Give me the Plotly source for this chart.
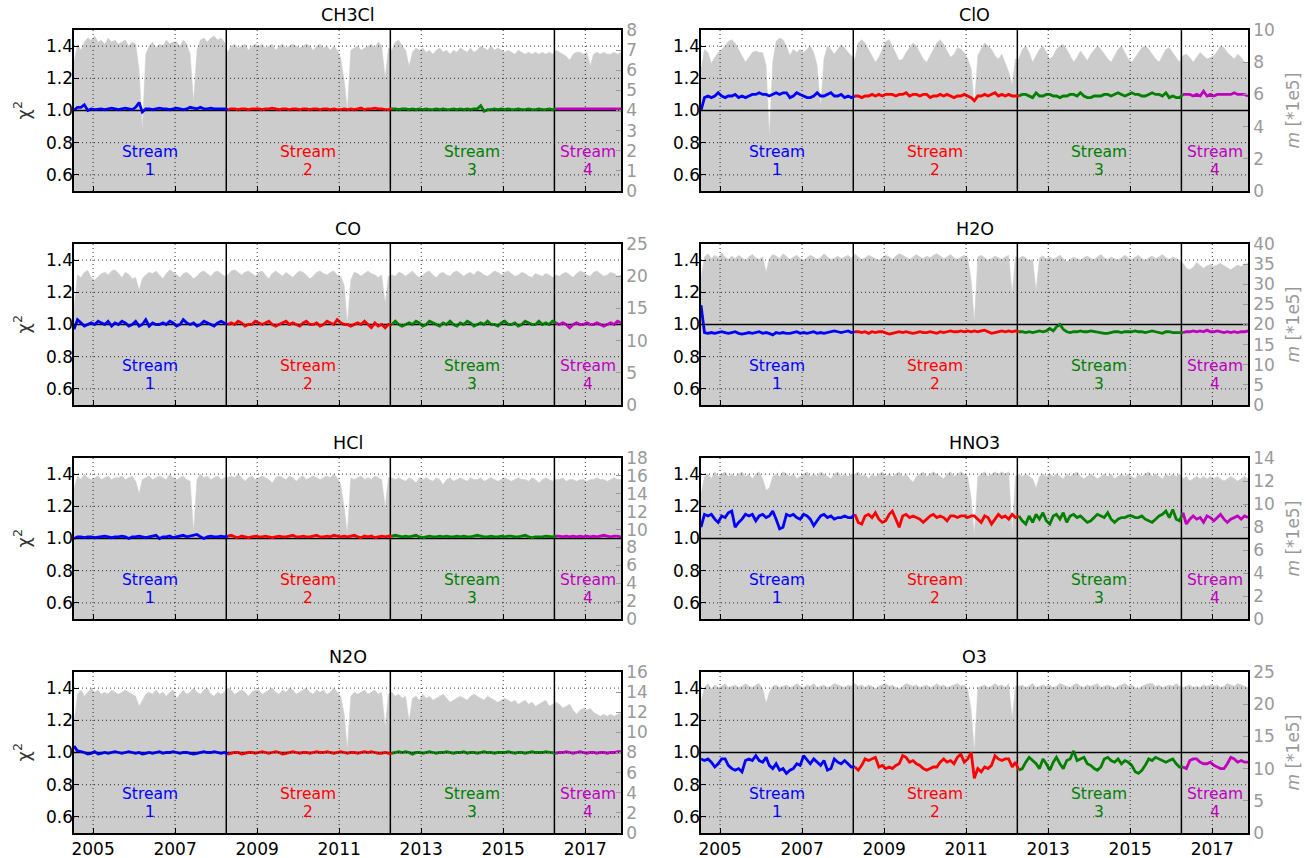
import plotly.graph_objects as go
import pandas as pd

# ---------------- data ----------------
SPECIES = ["CH3Cl", "ClO", "CO", "H2O", "HCl", "HNO3", "N2O", "O3"]
M_MAX = [8, 10, 25, 40, 18, 14, 16, 25]
M_DTICK = [1, 2, 5, 5, 2, 2, 2, 5]

STREAM_LABELS = ["1", "2", "3", "4"]
STREAM_COLORS = ["#0000ff", "#ff0000", "#008000", "#bf00bf"]
STREAM_STARTS = ["2004-07-15", "2008-04-01", "2012-04-01", "2016-04-01"]
DATA_END = "2017-11-15"
X_TICK_YEARS = ["2005", "2007", "2009", "2011", "2013", "2015", "2017"]
CHI_TICKS = [0.6, 0.8, 1.0, 1.2, 1.4]
N_MONTHS = 161  # monthly means, Jul 2004 .. Nov 2017

M_CH3CL = [
    6.4, 7.3, 7.0, 7.4, 7.6, 7.5,
    7.7, 7.4, 7.5, 7.3, 7.6, 7.4, 7.5, 7.3, 7.4, 7.5, 7.2, 7.4,
    7.3, 6.0, 3.0, 6.8, 7.2, 7.4, 7.1, 7.3, 7.2, 7.5, 7.3, 7.4,
    7.4, 7.2, 7.5, 7.3, 6.8, 4.4, 7.0, 7.5, 7.6, 7.4, 7.6, 7.7,
    7.5, 7.6, 7.4, 6.9, 7.2, 7.3, 7.1, 7.2, 7.3, 7.0, 7.2, 7.3,
    7.2, 7.3, 7.1, 7.2, 7.3, 7.0, 7.2, 7.3, 7.1, 7.2, 7.3, 7.2,
    7.1, 7.2, 7.3, 7.2, 7.0, 7.2, 7.3, 7.1, 7.2, 7.0, 7.2, 7.0,
    6.6, 5.5, 4.0, 7.0, 7.1, 7.2, 7.0, 7.1, 7.2, 7.3, 7.1, 7.4,
    7.2, 5.6, 7.1, 7.0, 7.4, 7.5, 7.2, 7.0, 6.2, 6.9, 7.1, 7.0,
    7.1, 6.9, 7.0, 6.8, 7.0, 7.1, 6.9, 7.0, 6.8, 7.0, 6.9, 7.1,
    7.0, 6.9, 7.1, 6.9, 7.0, 7.2, 7.1, 7.0, 7.2, 7.0, 7.1, 7.0,
    6.9, 7.0, 6.9, 6.8, 7.0, 6.9, 6.8, 6.9, 6.8, 6.9, 6.8, 6.9,
    6.8, 6.9, 6.8, 7.0, 6.9, 6.8, 6.7, 6.5, 6.8, 6.9, 6.9, 6.8,
    6.9, 6.2, 6.8, 6.9, 6.8, 6.9, 6.8, 6.8, 6.9, 6.8, 6.9,
]
CHI_CH3CL = [
    1.00, 1.02, 1.02, 1.035, 1.00, 1.01,
    1.005, 1.01, 1.01, 1.005, 1.01, 1.015, 1.01, 1.005, 1.01, 1.015, 1.01, 1.005,
    1.02, 1.05, 0.99, 1.01, 1.01, 1.005, 1.01, 1.015, 1.01, 1.01, 1.005, 1.01,
    1.015, 1.01, 1.005, 1.01, 1.02, 1.015, 1.01, 1.02, 1.01, 1.01, 1.015, 1.01,
    1.01, 1.01, 1.01, 1.005, 1.01, 1.01, 1.005, 1.01, 1.01, 1.005, 1.01, 1.01,
    1.01, 1.005, 1.01, 1.01, 1.015, 1.01, 1.005, 1.01, 1.01, 1.005, 1.01, 1.01,
    1.005, 1.01, 1.01, 1.005, 1.01, 1.01, 1.005, 1.01, 1.01, 1.005, 1.01, 1.005,
    1.005, 1.01, 1.005, 1.01, 1.005, 1.01, 1.015, 1.005, 1.01, 1.01, 1.015, 1.01,
    1.01, 1.005, 1.005, 1.01, 1.01, 1.005, 1.01, 1.01, 1.005, 1.01, 1.005, 1.01,
    1.005, 1.01, 1.005, 1.005, 1.01, 1.005, 1.01, 1.005, 1.005, 1.01, 1.005, 1.01,
    1.005, 1.01, 1.005, 1.01, 1.01, 1.03, 0.995, 1.005, 1.005, 1.01, 1.005, 1.01,
    1.005, 1.01, 1.005, 1.005, 1.01, 1.005, 1.005, 1.01, 1.005, 1.005, 1.01, 1.005,
    1.005, 1.01, 1.005, 1.01, 1.01, 1.01, 1.01, 1.01, 1.01, 1.01, 1.01, 1.01,
    1.01, 1.01, 1.01, 1.01, 1.01, 1.01, 1.01, 1.01, 1.01, 1.01, 1.01,
]

M_CLO = [
    7.5, 8.8, 8.6, 7.9, 8.3, 8.6,
    8.8, 9.0, 9.3, 9.4, 9.2, 8.8, 8.4, 8.0, 8.3, 8.6, 8.7, 8.6,
    8.6, 7.8, 3.4, 8.0, 9.3, 9.5, 9.4, 9.0, 8.4, 8.8, 8.6, 8.8,
    8.6, 8.8, 9.0, 8.6, 7.8, 5.2, 8.2, 9.0, 8.8, 8.5, 8.8, 9.1,
    8.9, 8.6, 8.4, 8.2, 9.2, 9.4, 9.2, 8.8, 8.4, 8.0, 8.3, 8.8,
    9.3, 9.4, 9.0, 8.5, 8.1, 8.2, 8.6, 8.9, 9.2, 9.0, 8.6, 8.2,
    8.0, 8.4, 8.8, 9.2, 9.4, 9.1, 8.7, 8.3, 8.5, 8.9, 8.8, 8.6,
    8.2, 7.6, 5.2, 8.4, 8.8, 9.2, 9.0, 8.8, 8.4, 8.2, 8.5, 8.0,
    7.4, 6.6, 8.2, 8.2, 8.8, 9.0, 8.6, 8.0, 8.4, 8.8, 9.0, 8.6,
    8.2, 8.4, 8.8, 9.0, 9.1, 8.8, 8.4, 8.0, 8.3, 8.7, 8.4, 8.1,
    8.5, 8.8, 9.0, 8.8, 8.5, 8.2, 8.0, 8.4, 8.8, 9.0, 8.6, 8.2,
    8.0, 8.3, 8.6, 8.9, 9.0, 8.8, 8.5, 8.2, 8.0, 8.4, 8.8, 8.9,
    8.6, 8.3, 8.0, 8.4, 8.5, 8.3, 8.0, 8.3, 8.6, 8.4, 8.2, 8.3,
    8.4, 8.7, 9.0, 8.9, 8.6, 8.4, 8.2, 8.5, 8.3, 8.0, 7.9,
]
CHI_CLO = [
    1.00, 1.08, 1.09, 1.08, 1.09, 1.11,
    1.09, 1.08, 1.09, 1.09, 1.10, 1.08, 1.09, 1.08, 1.09, 1.10, 1.10, 1.11,
    1.10, 1.10, 1.09, 1.10, 1.11, 1.10, 1.11, 1.11, 1.08, 1.09, 1.11, 1.10,
    1.09, 1.08, 1.08, 1.09, 1.11, 1.09, 1.09, 1.10, 1.11, 1.09, 1.09, 1.10,
    1.08, 1.09, 1.08, 1.09, 1.09, 1.08, 1.09, 1.09, 1.10, 1.09, 1.10, 1.09,
    1.10, 1.10, 1.10, 1.09, 1.10, 1.10, 1.11, 1.09, 1.10, 1.10, 1.09, 1.10,
    1.10, 1.08, 1.09, 1.09, 1.10, 1.09, 1.10, 1.09, 1.08, 1.09, 1.09, 1.10,
    1.09, 1.08, 1.06, 1.09, 1.09, 1.10, 1.09, 1.10, 1.11, 1.09, 1.10, 1.09,
    1.10, 1.09, 1.09, 1.09, 1.10, 1.10, 1.09, 1.08, 1.11, 1.09, 1.09, 1.10,
    1.10, 1.09, 1.09, 1.08, 1.09, 1.09, 1.10, 1.10, 1.09, 1.11, 1.09, 1.08,
    1.08, 1.09, 1.09, 1.09, 1.10, 1.10, 1.09, 1.10, 1.11, 1.10, 1.09, 1.10,
    1.11, 1.10, 1.10, 1.09, 1.09, 1.10, 1.11, 1.10, 1.10, 1.09, 1.11, 1.08,
    1.09, 1.08, 1.08, 1.10, 1.10, 1.10, 1.09, 1.10, 1.09, 1.12, 1.09, 1.10,
    1.09, 1.10, 1.10, 1.10, 1.10, 1.10, 1.11, 1.10, 1.10, 1.10, 1.09,
]

M_CO = [
    15.0, 20.2, 19.8, 20.6, 20.9, 19.8,
    19.4, 20.0, 20.4, 20.6, 20.2, 20.8, 21.0, 20.4, 19.8, 20.6, 20.3, 19.6,
    19.8, 17.8, 19.6, 20.2, 20.6, 20.4, 20.8, 20.2, 19.6, 20.4, 21.0, 20.6,
    20.2, 19.8, 20.4, 20.6, 20.2, 19.6, 20.0, 20.6, 20.8, 20.4, 20.0, 20.6,
    20.8, 20.4, 20.0, 20.2, 20.8, 21.0, 20.6, 20.2, 20.6, 20.8, 20.4, 20.0,
    20.6, 20.8, 20.2, 19.6, 20.4, 20.8, 20.4, 20.0, 20.6, 20.2, 19.8, 20.4,
    20.8, 20.6, 20.2, 19.6, 20.0, 20.6, 20.8, 20.4, 20.2, 20.6, 20.8, 20.2,
    20.0, 18.6, 12.6, 19.4, 20.6, 20.4, 20.0, 20.4, 20.8, 20.4, 20.2, 19.8,
    20.2, 15.7, 20.0, 20.2, 20.0, 20.6, 20.4, 20.0, 20.4, 20.8, 20.2, 19.8,
    20.2, 20.6, 20.8, 20.2, 19.8, 20.4, 20.6, 20.2, 20.0, 20.6, 20.8, 20.4,
    20.0, 20.4, 20.6, 20.2, 20.8, 20.6, 20.2, 20.0, 20.4, 20.8, 20.6, 20.2,
    20.6, 20.8, 20.4, 20.0, 20.2, 20.6, 20.4, 20.0, 19.8, 20.4, 20.2, 20.0,
    20.4, 20.2, 19.8, 20.2, 20.0, 20.4, 20.6, 20.2, 19.8, 20.4, 20.8, 20.6,
    20.2, 20.0, 20.6, 20.8, 20.4, 20.0, 20.2, 20.6, 20.4, 20.0, 20.2,
]
CHI_CO = [
    0.97, 1.03, 1.01, 0.99, 1.00, 1.01,
    1.00, 1.02, 1.01, 1.00, 1.02, 0.99, 1.01, 1.00, 1.02, 1.01, 0.99, 1.00,
    1.02, 0.99, 1.00, 1.03, 0.99, 1.01, 1.00, 1.00, 1.01, 1.00, 1.02, 1.01,
    0.99, 1.00, 1.03, 1.01, 1.00, 1.01, 0.99, 1.00, 1.02, 1.01, 1.00, 0.99,
    1.01, 1.02, 1.01, 1.00, 1.01, 1.00, 1.02, 1.01, 0.99, 1.00, 1.00, 1.02,
    1.01, 1.00, 1.01, 1.02, 1.00, 0.99, 1.00, 1.01, 1.02, 1.00, 1.01, 1.00,
    0.99, 1.01, 1.02, 1.00, 1.00, 1.01, 0.99, 1.00, 1.02, 1.01, 1.00, 1.03,
    1.01, 1.00, 1.00, 0.99, 1.00, 1.01, 1.00, 1.02, 1.00, 0.98, 1.01, 0.99,
    1.00, 0.98, 1.00, 1.00, 1.02, 1.00, 0.99, 1.00, 1.01, 1.00, 1.02, 1.01,
    0.99, 1.00, 1.02, 1.01, 1.00, 0.99, 1.01, 1.00, 1.02, 1.00, 0.99, 1.01,
    1.00, 1.02, 1.01, 0.99, 1.00, 1.01, 1.00, 1.02, 1.00, 1.00, 0.99, 1.01,
    1.02, 1.00, 1.00, 1.01, 0.99, 1.00, 1.02, 1.01, 1.00, 1.00, 1.02, 1.00,
    1.01, 1.00, 1.02, 1.01, 1.00, 1.01, 1.00, 0.98, 1.00, 1.01, 1.00, 1.00,
    1.01, 1.00, 1.00, 1.01, 1.00, 0.99, 1.00, 1.01, 1.00, 1.02, 1.01,
]

M_H2O = [
    31.6, 36.8, 37.6, 36.4, 37.2, 36.6,
    37.8, 36.8, 36.2, 37.0, 36.4, 37.2, 36.6, 36.0, 36.8, 37.4, 36.6, 36.2,
    36.8, 33.0, 36.4, 37.4, 37.0, 36.4, 37.6, 37.0, 36.2, 36.8, 37.2, 36.4,
    36.0, 36.6, 37.2, 36.8, 36.2, 36.6, 37.6, 36.8, 36.2, 36.4, 37.0, 36.4,
    36.8, 37.2, 36.4, 37.6, 36.8, 36.2, 36.6, 37.2, 36.8, 36.4, 36.0, 36.6,
    37.2, 36.8, 36.2, 37.0, 37.6, 37.2, 36.6, 36.2, 36.8, 37.4, 36.8, 36.4,
    37.0, 36.6, 37.2, 37.6, 37.0, 36.4, 36.8, 37.4, 36.6, 36.2, 36.8, 37.2,
    36.6, 31.0, 20.5, 36.8, 37.2, 36.6, 36.0, 36.4, 37.0, 36.6, 36.2, 36.8,
    37.2, 27.6, 36.8, 36.4, 37.0, 36.6, 35.8, 36.2, 28.4, 36.6, 37.0, 36.4,
    36.8, 36.2, 36.6, 37.2, 36.4, 35.6, 36.2, 36.8, 36.4, 36.0, 36.6, 37.0,
    36.4, 36.2, 36.8, 37.4, 36.6, 36.2, 36.8, 36.4, 36.0, 36.6, 37.2, 36.6,
    36.2, 36.8, 37.2, 36.4, 36.0, 36.6, 37.0, 36.4, 36.8, 37.4, 36.6, 36.2,
    36.8, 36.4, 36.0, 35.2, 34.0, 33.6, 34.2, 35.4, 34.8, 34.0, 34.6, 35.0,
    34.4, 34.8, 35.2, 34.6, 34.0, 33.6, 34.2, 34.8, 34.4, 35.0, 35.2,
]
CHI_H2O = [
    1.12, 0.95, 0.945, 0.95, 0.945, 0.95,
    0.955, 0.95, 0.945, 0.95, 0.955, 0.945, 0.94, 0.945, 0.95, 0.945, 0.95, 0.955,
    0.945, 0.95, 0.945, 0.935, 0.95, 0.945, 0.95, 0.945, 0.945, 0.95, 0.955, 0.945,
    0.95, 0.945, 0.95, 0.955, 0.945, 0.95, 0.945, 0.95, 0.955, 0.96, 0.955, 0.95,
    0.955, 0.96, 0.95, 0.955, 0.955, 0.95, 0.955, 0.945, 0.955, 0.95, 0.955, 0.955,
    0.945, 0.94, 0.945, 0.95, 0.955, 0.95, 0.955, 0.95, 0.945, 0.95, 0.955, 0.95,
    0.95, 0.955, 0.95, 0.945, 0.955, 0.95, 0.955, 0.96, 0.955, 0.955, 0.96, 0.955,
    0.96, 0.955, 0.96, 0.955, 0.96, 0.965, 0.955, 0.945, 0.95, 0.955, 0.96, 0.955,
    0.96, 0.955, 0.96, 0.955, 0.955, 0.95, 0.955, 0.95, 0.955, 0.96, 0.955, 0.96,
    0.975, 0.96, 0.985, 1.00, 0.97, 0.955, 0.95, 0.955, 0.955, 0.96, 0.955, 0.955,
    0.96, 0.955, 0.955, 0.95, 0.945, 0.945, 0.95, 0.955, 0.955, 0.95, 0.955, 0.955,
    0.955, 0.96, 0.955, 0.955, 0.95, 0.955, 0.96, 0.955, 0.95, 0.945, 0.955, 0.955,
    0.95, 0.95, 0.95, 0.95, 0.955, 0.955, 0.96, 0.955, 0.96, 0.955, 0.965, 0.955,
    0.955, 0.96, 0.955, 0.95, 0.955, 0.95, 0.955, 0.95, 0.955, 0.955, 0.96,
]

M_HCL = [
    14.6, 16.0, 15.6, 16.2, 15.8, 15.6,
    15.8, 16.0, 15.6, 15.8, 16.0, 15.6, 15.8, 15.8, 16.0, 15.6, 15.8, 16.0,
    15.4, 14.0, 15.6, 15.8, 16.0, 15.6, 15.8, 16.0, 15.8, 15.6, 16.2, 15.8,
    15.6, 15.8, 16.0, 15.6, 15.4, 9.7, 15.6, 16.2, 15.8, 16.0, 15.6, 15.8,
    16.0, 15.6, 15.8, 15.8, 16.0, 15.8, 16.2, 15.8, 15.4, 15.8, 16.0, 15.6,
    15.8, 16.0, 15.8, 15.6, 15.2, 15.8, 16.0, 15.8, 15.6, 16.0, 15.8, 15.4,
    15.8, 16.0, 15.6, 15.8, 16.0, 15.8, 15.6, 15.8, 16.0, 15.8, 16.2, 15.8,
    15.0, 12.5, 9.5, 15.8, 15.6, 15.8, 16.0, 15.6, 15.8, 15.6, 16.0, 15.8,
    15.6, 12.5, 15.8, 15.8, 15.6, 15.8, 15.6, 15.4, 15.8, 15.6, 15.2, 15.8,
    15.6, 15.8, 15.6, 15.4, 15.8, 15.6, 15.0, 15.6, 15.8, 15.4, 15.6, 15.8,
    15.6, 15.4, 15.8, 15.6, 15.6, 15.8, 15.4, 15.6, 15.8, 15.6, 15.4, 15.6,
    15.8, 15.6, 15.4, 15.6, 15.8, 15.6, 15.6, 15.4, 15.8, 15.6, 15.2, 15.6,
    15.8, 15.6, 15.4, 15.6, 15.6, 15.8, 15.4, 15.6, 15.6, 15.4, 15.6, 15.6,
    15.4, 15.6, 15.6, 15.8, 15.6, 15.6, 15.4, 15.6, 15.8, 15.6, 15.6,
]
CHI_HCL = [
    1.00, 1.01, 1.01, 1.005, 1.01, 1.01,
    1.005, 1.01, 1.01, 1.015, 1.01, 1.005, 1.01, 1.01, 1.015, 1.01, 1.00, 1.01,
    1.01, 1.015, 1.01, 1.005, 1.01, 1.015, 1.02, 1.00, 1.01, 1.01, 1.015, 1.005,
    1.01, 1.015, 1.02, 1.01, 1.015, 1.02, 1.025, 1.01, 1.00, 1.01, 1.015, 1.01,
    1.01, 1.015, 1.01, 1.015, 1.02, 1.01, 1.005, 1.015, 1.01, 1.005, 1.01, 1.015,
    1.01, 1.01, 1.015, 1.01, 1.005, 1.01, 1.015, 1.01, 1.01, 1.015, 1.02, 1.01,
    1.01, 1.015, 1.01, 1.01, 1.015, 1.02, 1.01, 1.01, 1.015, 1.01, 1.02, 1.015,
    1.01, 1.015, 1.01, 1.015, 1.02, 1.01, 1.005, 1.015, 1.01, 1.015, 1.005, 1.01,
    1.015, 1.01, 1.015, 1.015, 1.02, 1.015, 1.01, 1.015, 1.01, 1.015, 1.02, 1.01,
    1.005, 1.01, 1.015, 1.01, 1.01, 1.015, 1.01, 1.015, 1.01, 1.01, 1.015, 1.01,
    1.015, 1.01, 1.01, 1.015, 1.02, 1.015, 1.01, 1.01, 1.015, 1.01, 1.01, 1.015,
    1.01, 1.015, 1.015, 1.01, 1.01, 1.015, 1.02, 1.01, 1.005, 1.01, 1.01, 1.01,
    1.015, 1.01, 1.01, 1.015, 1.015, 1.01, 1.015, 1.01, 1.015, 1.01, 1.015, 1.01,
    1.015, 1.01, 1.015, 1.01, 1.015, 1.02, 1.015, 1.01, 1.015, 1.015, 1.01,
]

M_HNO3 = [
    10.8, 12.4, 12.6, 12.2, 12.8, 12.4,
    12.6, 12.8, 12.4, 12.6, 12.4, 12.6, 12.8, 12.4, 12.6, 12.2, 12.6, 12.8,
    12.2, 11.2, 11.4, 12.4, 12.6, 12.4, 12.8, 12.6, 12.4, 12.6, 12.2, 12.4,
    12.6, 12.8, 12.4, 12.6, 12.4, 12.8, 12.6, 12.4, 12.2, 12.6, 12.8, 12.4,
    12.6, 12.4, 12.6, 12.6, 12.8, 12.4, 12.6, 12.2, 12.6, 12.4, 12.6, 12.8,
    12.4, 12.6, 12.4, 12.6, 12.8, 12.4, 12.6, 12.2, 11.9, 12.4, 12.6, 12.8,
    12.4, 12.6, 12.8, 12.6, 12.4, 12.2, 12.6, 12.8, 12.4, 12.6, 12.8, 12.6,
    12.4, 10.5, 7.3, 12.4, 12.6, 12.8, 12.4, 12.6, 12.8, 12.6, 12.8, 12.6,
    12.8, 7.4, 12.4, 12.6, 12.4, 12.6, 12.4, 12.2, 11.4, 12.4, 12.6, 12.4,
    12.6, 12.4, 12.6, 12.4, 12.2, 12.6, 12.4, 12.6, 12.8, 12.4, 12.2, 12.4,
    12.6, 12.4, 12.2, 12.4, 12.6, 12.4, 12.6, 12.2, 12.4, 12.6, 12.4, 12.6,
    12.4, 12.2, 12.6, 12.4, 12.6, 12.8, 12.4, 12.6, 12.4, 12.2, 12.6, 12.4,
    12.6, 12.4, 12.6, 12.2, 12.4, 12.0, 12.2, 12.4, 12.2, 12.4, 12.2, 12.4,
    12.2, 12.4, 12.2, 12.0, 12.2, 12.4, 12.2, 12.0, 12.2, 12.4, 12.2,
]
CHI_HNO3 = [
    1.07, 1.15, 1.14, 1.15, 1.12, 1.10,
    1.14, 1.13, 1.16, 1.17, 1.07, 1.10, 1.12, 1.15, 1.14, 1.15, 1.11, 1.14,
    1.15, 1.13, 1.14, 1.17, 1.12, 1.06, 1.07, 1.15, 1.14, 1.15, 1.13, 1.12,
    1.15, 1.14, 1.12, 1.08, 1.11, 1.14, 1.15, 1.13, 1.14, 1.12, 1.13, 1.13,
    1.14, 1.13, 1.13, 1.15, 1.10, 1.09, 1.14, 1.15, 1.13, 1.16, 1.12, 1.10,
    1.11, 1.15, 1.17, 1.12, 1.07, 1.14, 1.15, 1.13, 1.14, 1.13, 1.12, 1.10,
    1.12, 1.14, 1.15, 1.13, 1.14, 1.13, 1.11, 1.14, 1.14, 1.13, 1.14, 1.14,
    1.13, 1.14, 1.14, 1.12, 1.10, 1.14, 1.13, 1.09, 1.12, 1.15, 1.13, 1.14,
    1.12, 1.15, 1.13, 1.14, 1.11, 1.09, 1.14, 1.10, 1.15, 1.12, 1.16, 1.11,
    1.09, 1.14, 1.15, 1.12, 1.16, 1.10, 1.14, 1.15, 1.13, 1.14, 1.12, 1.10,
    1.11, 1.13, 1.15, 1.14, 1.13, 1.16, 1.12, 1.10, 1.12, 1.13, 1.13, 1.14,
    1.14, 1.13, 1.13, 1.14, 1.12, 1.11, 1.10, 1.12, 1.14, 1.15, 1.17, 1.13,
    1.18, 1.12, 1.11, 1.16, 1.09, 1.12, 1.14, 1.12, 1.13, 1.10, 1.14, 1.13,
    1.11, 1.13, 1.15, 1.12, 1.10, 1.12, 1.13, 1.14, 1.12, 1.14, 1.13,
]

M_N2O = [
    11.0, 13.8, 14.2, 13.6, 14.0, 14.4,
    14.0, 14.2, 13.8, 14.0, 13.8, 14.2, 14.0, 13.8, 14.0, 14.2, 14.0, 13.8,
    13.6, 12.6, 13.2, 13.8, 14.0, 13.8, 14.2, 13.8, 14.0, 13.6, 14.0, 14.2,
    13.4, 13.8, 14.2, 13.8, 14.0, 14.4, 14.0, 13.8, 14.2, 14.4, 13.8, 13.6,
    14.0, 13.8, 14.0, 14.4, 14.2, 13.8, 14.0, 14.2, 14.0, 13.6, 14.0, 14.2,
    14.2, 13.8, 14.0, 14.2, 14.4, 14.0, 13.8, 14.2, 14.0, 14.4, 14.2, 13.8,
    14.0, 14.2, 14.4, 14.0, 13.8, 14.2, 14.0, 14.2, 13.8, 14.0, 14.4, 14.0,
    13.6, 11.8, 8.3, 13.6, 14.0, 13.8, 14.0, 14.2, 13.8, 14.0, 14.2, 13.8,
    14.0, 10.5, 13.8, 14.0, 13.6, 13.8, 13.4, 13.6, 11.1, 13.4, 13.6, 13.2,
    13.8, 13.4, 13.6, 13.2, 13.4, 13.6, 13.8, 13.4, 13.0, 13.2, 13.4, 13.6,
    13.4, 13.2, 13.6, 13.8, 13.6, 13.4, 13.2, 13.6, 13.4, 13.2, 13.0, 13.2,
    13.4, 13.2, 13.0, 13.2, 12.8, 13.0, 13.2, 12.8, 13.0, 12.6, 12.8, 13.0,
    13.2, 12.6, 12.8, 13.0, 12.8, 12.4, 12.6, 12.8, 12.2, 11.8, 12.2, 12.4,
    12.2, 12.4, 12.0, 11.8, 11.6, 11.8, 11.6, 11.8, 11.6, 11.8, 11.9,
]
CHI_N2O = [
    1.04, 1.01, 1.005, 1.0, 0.99, 0.995,
    1.005, 0.99, 0.995, 1.0, 0.995, 1.0, 1.005, 1.0, 0.995, 1.0, 1.005, 1.0,
    0.995, 1.0, 0.99, 0.995, 1.0, 0.995, 1.0, 1.005, 0.995, 1.0, 1.0, 1.005,
    1.0, 0.995, 1.0, 1.0, 0.995, 0.99, 0.995, 1.0, 1.005, 1.0, 1.0, 1.005,
    1.0, 0.995, 1.0, 0.99, 0.995, 1.0, 1.0, 0.99, 0.995, 1.0, 1.0, 0.995,
    1.0, 1.005, 1.0, 0.995, 1.0, 1.005, 1.0, 0.99, 0.995, 1.0, 1.005, 1.0,
    0.995, 1.0, 1.0, 0.995, 1.0, 1.005, 1.0, 1.0, 1.005, 1.0, 0.995, 1.0,
    1.005, 1.0, 0.995, 1.0, 1.0, 0.995, 1.0, 1.005, 1.0, 1.005, 1.0, 0.995,
    0.995, 1.0, 0.995, 0.995, 1.0, 1.005, 1.0, 1.005, 1.0, 0.99, 1.0, 1.0,
    0.995, 1.0, 1.005, 1.0, 0.995, 1.0, 1.0, 1.005, 1.0, 0.995, 1.0, 1.0,
    1.005, 0.995, 1.0, 1.0, 0.995, 1.0, 1.005, 1.0, 1.0, 0.995, 1.0, 1.0,
    1.0, 1.005, 1.0, 0.995, 1.0, 1.0, 0.995, 1.0, 1.005, 1.0, 1.0, 1.0,
    1.005, 1.0, 1.0, 0.995, 1.0, 1.0, 1.005, 1.0, 0.995, 1.0, 1.005, 1.0,
    0.995, 1.0, 1.0, 0.995, 1.0, 1.0, 0.995, 1.0, 1.0, 1.005, 1.005,
]

M_O3 = [
    20.4, 22.6, 23.2, 22.4, 23.0, 22.6,
    22.8, 23.2, 22.6, 22.8, 23.0, 22.6, 22.8, 23.2, 22.8, 22.6, 23.0, 23.2,
    22.4, 20.2, 21.8, 22.8, 23.0, 22.6, 22.8, 23.0, 22.6, 22.8, 23.2, 22.8,
    22.6, 23.0, 22.8, 23.2, 22.6, 22.8, 23.0, 22.6, 22.8, 23.2, 23.0, 22.8,
    22.6, 23.0, 22.8, 23.2, 22.8, 23.0, 22.6, 23.0, 22.8, 22.4, 22.8, 23.0,
    23.2, 22.8, 23.0, 22.6, 22.4, 22.8, 23.2, 23.0, 22.8, 23.0, 22.6, 22.8,
    23.0, 22.6, 22.8, 23.2, 22.8, 23.0, 22.6, 22.8, 23.0, 23.2, 22.8, 23.0,
    22.4, 19.0, 12.7, 22.6, 22.8, 23.0, 22.6, 22.8, 23.2, 22.8, 23.0, 22.6,
    23.2, 17.7, 22.8, 22.8, 23.0, 22.6, 22.8, 23.2, 22.6, 22.8, 23.0, 22.8,
    23.0, 22.6, 22.8, 23.2, 23.0, 22.8, 22.6, 23.0, 23.2, 22.8, 22.6, 23.0,
    22.8, 23.0, 23.2, 22.6, 22.8, 23.0, 22.8, 22.4, 22.8, 23.0, 23.2, 22.8,
    23.0, 22.6, 22.4, 22.8, 23.0, 23.2, 23.2, 22.8, 23.0, 22.6, 22.8, 23.0,
    22.8, 23.2, 22.8, 22.6, 22.8, 23.0, 22.6, 22.8, 22.6, 23.0, 22.8, 23.0,
    22.8, 23.0, 22.6, 22.8, 23.2, 23.0, 22.8, 23.2, 23.0, 22.8, 22.6,
]
CHI_O3 = [
    0.96, 0.95, 0.96, 0.94, 0.91, 0.93,
    0.96, 0.96, 0.92, 0.90, 0.89, 0.90, 0.88, 0.95, 0.96, 0.95, 0.98, 0.95,
    0.94, 0.97, 0.92, 0.90, 0.93, 0.89, 0.90, 0.87, 0.89, 0.90, 0.93, 0.92,
    0.98, 0.95, 0.93, 0.96, 0.94, 0.92, 0.95, 0.89, 0.90, 0.96, 0.94, 0.93,
    0.95, 0.93, 0.91, 0.91, 0.89, 0.92, 0.96, 0.95, 0.96, 0.97, 0.91, 0.92,
    0.90, 0.91, 0.90, 0.92, 0.93, 0.98, 0.97, 0.94, 0.95, 0.93, 0.92, 0.90,
    0.89, 0.90, 0.91, 0.91, 0.94, 0.96, 0.94, 0.95, 0.93, 0.97, 0.99, 0.94,
    0.96, 1.00, 0.84, 0.90, 0.88, 0.91, 0.90, 0.92, 0.98, 0.96, 0.95, 0.96,
    0.96, 0.91, 0.94, 0.89, 0.90, 0.94, 0.97, 0.95, 0.93, 0.90, 0.96, 0.93,
    0.89, 0.94, 0.97, 0.93, 0.90, 0.95, 0.96, 1.01, 0.95, 0.96, 0.97, 0.93,
    0.92, 0.90, 0.89, 0.91, 0.96, 0.97, 0.95, 0.94, 0.96, 0.93, 0.95, 0.94,
    0.92, 0.88, 0.87, 0.89, 0.92, 0.96, 0.95, 0.97, 0.96, 0.95, 0.94, 0.95,
    0.96, 0.93, 0.91, 0.91, 0.90, 0.95, 0.96, 0.96, 0.94, 0.93, 0.93, 0.94,
    0.92, 0.91, 0.90, 0.90, 0.93, 0.97, 0.96, 0.94, 0.95, 0.94, 0.94,
]

M_SERIES = [M_CH3CL, M_CLO, M_CO, M_H2O, M_HCL, M_HNO3, M_N2O, M_O3]
CHI_SERIES = [CHI_CH3CL, CHI_CLO, CHI_CO, CHI_H2O, CHI_HCL, CHI_HNO3, CHI_N2O, CHI_O3]

for name, a, b in zip(SPECIES, M_SERIES, CHI_SERIES):
    assert len(a) == N_MONTHS, (name, "m", len(a))
    assert len(b) == N_MONTHS, (name, "chi", len(b))

# ---------------- layout constants (pixels) ----------------
W, H = 1311, 858
ROW_TOP = [30, 244, 458, 672]
PANEL_H = 161
COL_LEFT = [74, 701]
PANEL_W = 547
FONT = "DejaVu Sans"

dates = pd.date_range(STREAM_STARTS[0], periods=N_MONTHS, freq=pd.DateOffset(months=1))
starts = [pd.Timestamp(s) for s in STREAM_STARTS] + [pd.Timestamp(DATA_END) + pd.Timedelta(days=1)]

fig = go.Figure()
layout = dict(
    width=W, height=H, autosize=False,
    margin=dict(l=0, r=0, t=0, b=0, autoexpand=False),
    paper_bgcolor="white", plot_bgcolor="white",
    showlegend=False,
    font=dict(family=FONT, color="black"),
)
shapes = []
annotations = []

for i, sp in enumerate(SPECIES):
    r, c = divmod(i, 2)
    xa = "x" if i == 0 else f"x{i+1}"
    ym = "y" if i == 0 else f"y{2*i+1}"
    yc = f"y{2*i+2}"
    xkey = "xaxis" if i == 0 else f"xaxis{i+1}"
    ymkey = "yaxis" if i == 0 else f"yaxis{2*i+1}"
    yckey = f"yaxis{2*i+2}"

    x0p = COL_LEFT[c] / W
    x1p = (COL_LEFT[c] + PANEL_W) / W
    y1p = 1 - ROW_TOP[r] / H
    y0p = 1 - (ROW_TOP[r] + PANEL_H) / H

    m = M_SERIES[i]
    chi = CHI_SERIES[i]

    # grey area: number of measurements m
    fig.add_trace(go.Scatter(
        x=dates, y=m, xaxis=xa, yaxis=ym, mode="lines",
        line=dict(color="#cccccc", width=0.5), fill="tozeroy",
        fillcolor="#cccccc", hoverinfo="skip"))

    # reference line chi2 = 1 and stream boundaries
    fig.add_trace(go.Scatter(
        x=[dates[0], dates[-1]], y=[1.0, 1.0], xaxis=xa, yaxis=yc,
        mode="lines", line=dict(color="black", width=1.5), hoverinfo="skip"))
    for b in STREAM_STARTS[1:]:
        fig.add_trace(go.Scatter(
            x=[b, b], y=[0.5, 1.5], xaxis=xa, yaxis=yc,
            mode="lines", line=dict(color="black", width=1.5), hoverinfo="skip"))

    # chi2 per stream
    for s in range(len(STREAM_LABELS)):
        idx = [k for k in range(N_MONTHS) if starts[s] <= dates[k] < starts[s + 1]]
        if s < len(STREAM_LABELS) - 1 and idx[-1] + 1 < N_MONTHS:
            idx = idx + [idx[-1] + 1]
        fig.add_trace(go.Scatter(
            x=[dates[k] for k in idx], y=[chi[k] for k in idx],
            xaxis=xa, yaxis=yc, mode="lines",
            line=dict(color=STREAM_COLORS[s], width=2.8), hoverinfo="skip"))
        mid = starts[s] + (min(starts[s + 1], pd.Timestamp(DATA_END)) - starts[s]) / 2
        annotations.append(dict(
            x=mid, y=0.742, xref=xa, yref=yc, text="Stream", showarrow=False,
            font=dict(size=15.5, color=STREAM_COLORS[s], family=FONT),
            xanchor="center", yanchor="middle"))
        annotations.append(dict(
            x=mid, y=0.628, xref=xa, yref=yc, text=STREAM_LABELS[s], showarrow=False,
            font=dict(size=15.5, color=STREAM_COLORS[s], family=FONT),
            xanchor="center", yanchor="middle"))

    # axes
    layout[xkey] = dict(
        domain=[x0p, x1p], anchor=ym, type="date",
        range=[dates[0], dates[-1]],
        tickvals=[f"{y}-01-01" for y in X_TICK_YEARS], ticktext=X_TICK_YEARS,
        showticklabels=(r == 3), ticks="inside", ticklen=5, tickcolor="black",
        tickfont=dict(size=17, color="black", family=FONT),
        showline=True, mirror=True, linecolor="black", linewidth=1.5,
        showgrid=False, zeroline=False, automargin=False)
    layout[ymkey] = dict(
        domain=[y0p, y1p], anchor=xa, side="right",
        range=[0, M_MAX[i]], tick0=0, dtick=M_DTICK[i],
        ticks="inside", ticklen=5, tickcolor="#999999",
        tickfont=dict(size=17, color="#999999", family=FONT),
        showline=True, mirror=True, linecolor="black", linewidth=1.5,
        showgrid=False, zeroline=False, automargin=False)
    layout[yckey] = dict(
        overlaying=ym, anchor=xa, side="left",
        range=[0.5, 1.5], tickvals=CHI_TICKS, tickformat=".1f",
        ticks="inside", ticklen=5, tickcolor="black",
        tickfont=dict(size=17, color="black", family=FONT),
        showline=False, showgrid=False, zeroline=False, automargin=False)

    # dotted grid drawn above the data (as in the original)
    for y in X_TICK_YEARS:
        shapes.append(dict(
            type="line", layer="above", xref=xa, yref=f"{ym} domain",
            x0=f"{y}-01-01", x1=f"{y}-01-01", y0=0, y1=1,
            line=dict(color="rgba(0,0,0,0.8)", width=1, dash="1px,3px")))
    for v in CHI_TICKS:
        shapes.append(dict(
            type="line", layer="above", xref=f"{xa} domain", yref=yc,
            x0=0, x1=1, y0=v, y1=v,
            line=dict(color="rgba(0,0,0,0.8)", width=1, dash="1px,3px")))

    # panel title
    annotations.append(dict(
        x=(x0p + x1p) / 2, y=1 - (ROW_TOP[r] - 15) / H, xref="paper", yref="paper",
        text=sp, showarrow=False, xanchor="center", yanchor="middle",
        font=dict(size=17.5, color="black", family=FONT)))

    # axis titles
    if c == 0:
        annotations.append(dict(
            x=22 / W, y=(y0p + y1p) / 2, xref="paper", yref="paper",
            text="χ<sup>2</sup>", showarrow=False, textangle=-90,
            xanchor="center", yanchor="middle",
            font=dict(size=18, color="#333333", family=FONT)))
    else:
        annotations.append(dict(
            x=1292 / W, y=(y0p + y1p) / 2, xref="paper", yref="paper",
            text="<i>m</i> [*1e5]", showarrow=False, textangle=-90,
            xanchor="center", yanchor="middle",
            font=dict(size=17, color="#999999", family=FONT)))

layout["shapes"] = shapes
layout["annotations"] = annotations
fig.update_layout(**layout)
fig.write_html(
    "out.html",
    config={"displayModeBar": False},
    post_script="document.body.style.margin='0';document.body.style.padding='0';"
                "document.documentElement.style.margin='0';",
)
